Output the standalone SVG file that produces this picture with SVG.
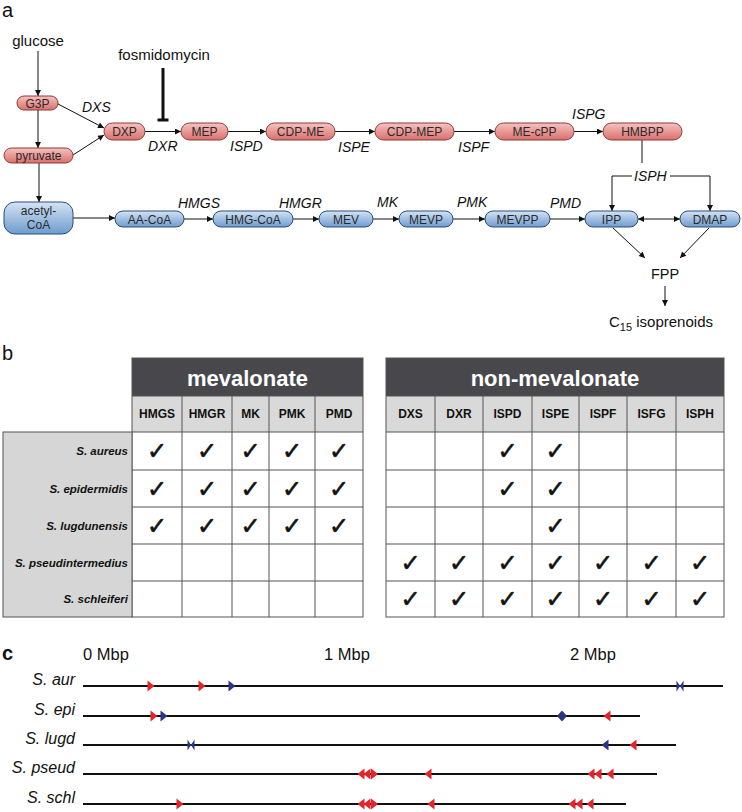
<svg xmlns="http://www.w3.org/2000/svg" width="742" height="812" viewBox="0 0 742 812">
<defs>
<linearGradient id="gr" x1="0" y1="0" x2="0" y2="1"><stop offset="0" stop-color="#f6c2bf"/><stop offset="1" stop-color="#d9706c"/></linearGradient>
<linearGradient id="gb" x1="0" y1="0" x2="0" y2="1"><stop offset="0" stop-color="#d3e3f4"/><stop offset="1" stop-color="#6e9ccf"/></linearGradient>
<marker id="ar" viewBox="0 0 10 10" refX="10" refY="5" markerWidth="7" markerHeight="6" markerUnits="userSpaceOnUse" orient="auto-start-reverse"><path d="M0,0 L10,5 L0,10 z" fill="#111"/></marker>
<polygon id="tR" points="-3.5,-5.5 3.5,0 -3.5,5.5"/>
<polygon id="tL" points="3.5,-5.5 -3.5,0 3.5,5.5"/>
<g id="bow"><polygon points="-3.5,-5.5 0,0 -3.5,5.5"/><polygon points="3.5,-5.5 0,0 3.5,5.5"/></g>
<g id="dia"><polygon points="0,-5.5 -5,0 0,5.5"/><polygon points="0,-5.5 5,0 0,5.5"/></g>
</defs>
<style>
.t{font-family:"Liberation Sans",Arial,sans-serif;fill:#111}
.pl{font-family:"Liberation Sans",Arial,sans-serif;font-size:20px;fill:#111}
.lab{font-family:"Liberation Sans",Arial,sans-serif;font-size:15px;fill:#111}
.enz{font-family:"Liberation Sans",Arial,sans-serif;font-size:14px;font-style:italic;fill:#111}
.nt{font-family:"Liberation Sans",Arial,sans-serif;font-size:12px;fill:#2a2a2a;text-anchor:middle}
.rn{fill:url(#gr);stroke:#8e3b38;stroke-width:1}
.bn{fill:url(#gb);stroke:#2d4c78;stroke-width:1}
.cn{stroke:#111;stroke-width:1;fill:none}
.hd{fill:#48484c}
.ch{fill:#d9d9d9}
.grid{stroke:#555;stroke-width:1;fill:none}
.ht{font-family:"Liberation Sans",Arial,sans-serif;font-size:22px;font-weight:bold;fill:#fff;text-anchor:middle}
.ct{font-family:"Liberation Sans",Arial,sans-serif;font-size:12px;font-weight:bold;fill:#111;text-anchor:middle}
.rt{font-family:"Liberation Sans",Arial,sans-serif;font-size:11.5px;font-weight:bold;font-style:italic;fill:#111;text-anchor:end}
.ck{font-family:"DejaVu Sans",sans-serif;font-size:24px;font-weight:bold;fill:#111;stroke:#111;stroke-width:0.6;text-anchor:middle}
.sp{font-family:"Liberation Sans",Arial,sans-serif;font-size:16px;font-style:italic;fill:#111;text-anchor:end}
.mb{font-family:"Liberation Sans",Arial,sans-serif;font-size:16.5px;fill:#111}
.chr{stroke:#111;stroke-width:2}
.red{fill:#e3242b}
.blu{fill:#2b3585}
</style>

<!-- panel a -->
<text class="pl" x="2" y="17">a</text>
<text class="lab" x="38" y="46" text-anchor="middle">glucose</text>
<text class="lab" x="164" y="60" text-anchor="middle">fosmidomycin</text>

<g id="connectors">
<line class="cn" x1="38" y1="51" x2="38" y2="96" marker-end="url(#ar)"/>
<line class="cn" x1="38" y1="110" x2="38" y2="148" marker-end="url(#ar)"/>
<line class="cn" x1="39" y1="163" x2="39" y2="202" marker-end="url(#ar)"/>
<line class="cn" x1="58" y1="104" x2="104" y2="128" marker-end="url(#ar)"/>
<line class="cn" x1="73" y1="155" x2="104" y2="135" marker-end="url(#ar)"/>
<line class="cn" x1="145" y1="131.5" x2="181" y2="131.5" marker-end="url(#ar)"/>
<line class="cn" x1="228" y1="131.5" x2="266" y2="131.5" marker-end="url(#ar)"/>
<line class="cn" x1="335" y1="131.5" x2="375" y2="131.5" marker-end="url(#ar)"/>
<line class="cn" x1="454" y1="131.5" x2="495" y2="131.5" marker-end="url(#ar)"/>
<line class="cn" x1="574" y1="131.5" x2="603" y2="131.5" marker-end="url(#ar)"/>
<line class="cn" x1="642" y1="140" x2="642" y2="163"/>
<path class="cn" d="M632,176 H612 V211" marker-end="url(#ar)"/>
<path class="cn" d="M670,176 H710 V211" marker-end="url(#ar)"/>
<line class="cn" x1="73" y1="218" x2="115" y2="218" marker-end="url(#ar)"/>
<line class="cn" x1="184" y1="219" x2="213" y2="219" marker-end="url(#ar)"/>
<line class="cn" x1="293" y1="219" x2="319" y2="219" marker-end="url(#ar)"/>
<line class="cn" x1="373" y1="219" x2="399" y2="219" marker-end="url(#ar)"/>
<line class="cn" x1="453" y1="219" x2="485" y2="219" marker-end="url(#ar)"/>
<line class="cn" x1="550" y1="219" x2="585" y2="219" marker-end="url(#ar)"/>
<line class="cn" x1="638" y1="219" x2="680" y2="219" marker-start="url(#ar)" marker-end="url(#ar)"/>
<line class="cn" x1="613" y1="228" x2="645" y2="258" marker-end="url(#ar)"/>
<line class="cn" x1="709" y1="228" x2="680" y2="258" marker-end="url(#ar)"/>
<line class="cn" x1="665" y1="286" x2="665" y2="306" marker-end="url(#ar)"/>
<line x1="163" y1="68" x2="163" y2="120" stroke="#111" stroke-width="3"/>
<line x1="157.5" y1="120" x2="168.5" y2="120" stroke="#111" stroke-width="3"/>
</g>

<g id="G3P"><rect class="rn" x="17" y="96" width="41" height="14" rx="7"/><text class="nt" x="37.5" y="107.5">G3P</text></g>
<g id="pyruvate"><rect class="rn" x="4" y="148" width="69" height="15" rx="7.5"/><text class="nt" x="38.5" y="160">pyruvate</text></g>
<g id="DXP"><rect class="rn" x="104" y="123" width="41" height="17" rx="8.5"/><text class="nt" x="124.5" y="136">DXP</text></g>
<g id="MEP"><rect class="rn" x="181" y="123" width="47" height="17" rx="8.5"/><text class="nt" x="204.5" y="136">MEP</text></g>
<g id="CDP-ME"><rect class="rn" x="266" y="123" width="69" height="17" rx="8.5"/><text class="nt" x="300.5" y="136">CDP-ME</text></g>
<g id="CDP-MEP"><rect class="rn" x="375" y="123" width="79" height="17" rx="8.5"/><text class="nt" x="414.5" y="136">CDP-MEP</text></g>
<g id="ME-cPP"><rect class="rn" x="495" y="123" width="79" height="17" rx="8.5"/><text class="nt" x="534.5" y="136">ME-cPP</text></g>
<g id="HMBPP"><rect class="rn" x="603" y="123" width="79" height="17" rx="8.5"/><text class="nt" x="642.5" y="136">HMBPP</text></g>

<g id="acetyl-CoA"><rect class="bn" x="4" y="202" width="69" height="32" rx="11"/><text class="nt" x="38.5" y="215">acetyl-</text><text class="nt" x="38.5" y="229">CoA</text></g>
<g id="AA-CoA"><rect class="bn" x="115" y="211" width="69" height="16" rx="8"/><text class="nt" x="149.5" y="223.5">AA-CoA</text></g>
<g id="HMG-CoA"><rect class="bn" x="213" y="211" width="80" height="16" rx="8"/><text class="nt" x="253" y="223.5">HMG-CoA</text></g>
<g id="MEV"><rect class="bn" x="319" y="211" width="54" height="16" rx="8"/><text class="nt" x="346" y="223.5">MEV</text></g>
<g id="MEVP"><rect class="bn" x="399" y="211" width="54" height="16" rx="8"/><text class="nt" x="426" y="223.5">MEVP</text></g>
<g id="MEVPP"><rect class="bn" x="485" y="211" width="65" height="16" rx="8"/><text class="nt" x="517.5" y="223.5">MEVPP</text></g>
<g id="IPP"><rect class="bn" x="585" y="211" width="53" height="16" rx="8"/><text class="nt" x="611.5" y="223.5">IPP</text></g>
<g id="DMAP"><rect class="bn" x="680" y="211" width="60" height="16" rx="8"/><text class="nt" x="710" y="223.5">DMAP</text></g>

<g id="enzymes">
<text class="enz" x="82" y="112">DXS</text>
<text class="enz" x="148" y="151">DXR</text>
<text class="enz" x="230" y="151">ISPD</text>
<text class="enz" x="338" y="152">ISPE</text>
<text class="enz" x="458" y="152">ISPF</text>
<text class="enz" x="572" y="119">ISPG</text>
<text class="enz" x="634" y="181">ISPH</text>
<text class="enz" x="178" y="208">HMGS</text>
<text class="enz" x="279" y="208">HMGR</text>
<text class="enz" x="377" y="207">MK</text>
<text class="enz" x="457" y="207">PMK</text>
<text class="enz" x="550" y="208">PMD</text>
</g>
<g id="FPP"><text class="t" x="665" y="279" font-size="14.5" text-anchor="middle">FPP</text></g>
<g id="C15"><text class="t" x="609" y="327" font-size="15">C<tspan font-size="11" dy="4">15</tspan><tspan dy="-4"> isoprenoids</tspan></text></g>

<!-- panel b -->
<text class="pl" x="2" y="360">b</text>
<g id="mevalonate-table">
<rect class="hd" x="132" y="358" width="231" height="38"/>
<text class="ht" x="247.5" y="386">mevalonate</text>
<rect class="ch" x="132" y="396" width="231" height="36"/>
<rect x="132" y="432" width="231" height="185" fill="#fff"/>
<path class="grid" d="M132,396 H363 M132,432 H363 M132,470 H363 M132,507 H363 M132,544 H363 M132,581 H363 M182,396 V617 M232,396 V617 M269,396 V617 M315,396 V617"/>
<rect class="grid" x="132" y="358" width="231" height="259"/>
<text class="ct" x="157" y="418">HMGS</text>
<text class="ct" x="207" y="418">HMGR</text>
<text class="ct" x="250.5" y="418">MK</text>
<text class="ct" x="292" y="418">PMK</text>
<text class="ct" x="339" y="418">PMD</text>
</g>
<g id="species-labels">
<rect x="3" y="432" width="129" height="185" fill="#d6d6d6" stroke="#555" stroke-width="1"/>
<text class="rt" x="128" y="455">S. aureus</text>
<text class="rt" x="128" y="492.5">S. epidermidis</text>
<text class="rt" x="128" y="529.5">S. lugdunensis</text>
<text class="rt" x="128" y="566.5">S. pseudintermedius</text>
<text class="rt" x="128" y="603">S. schleiferi</text>
</g>
<g id="non-mevalonate-table">
<rect class="hd" x="386" y="358" width="338" height="38"/>
<text class="ht" x="555" y="386">non-mevalonate</text>
<rect class="ch" x="386" y="396" width="338" height="36"/>
<rect x="386" y="432" width="338" height="185" fill="#fff"/>
<path class="grid" d="M386,396 H724 M386,432 H724 M386,470 H724 M386,507 H724 M386,544 H724 M386,581 H724 M435,396 V617 M483,396 V617 M532,396 V617 M579,396 V617 M627,396 V617 M676,396 V617"/>
<rect class="grid" x="386" y="358" width="338" height="259"/>
<text class="ct" x="410.5" y="418">DXS</text>
<text class="ct" x="459" y="418">DXR</text>
<text class="ct" x="507.5" y="418">ISPD</text>
<text class="ct" x="555.5" y="418">ISPE</text>
<text class="ct" x="603" y="418">ISPF</text>
<text class="ct" x="651.5" y="418">ISFG</text>
<text class="ct" x="700" y="418">ISPH</text>
</g>
<g id="checks">
<text class="ck" x="157" y="459">✓</text><text class="ck" x="207" y="459">✓</text><text class="ck" x="250.5" y="459">✓</text><text class="ck" x="292" y="459">✓</text><text class="ck" x="339" y="459">✓</text>
<text class="ck" x="157" y="496.5">✓</text><text class="ck" x="207" y="496.5">✓</text><text class="ck" x="250.5" y="496.5">✓</text><text class="ck" x="292" y="496.5">✓</text><text class="ck" x="339" y="496.5">✓</text>
<text class="ck" x="157" y="533.5">✓</text><text class="ck" x="207" y="533.5">✓</text><text class="ck" x="250.5" y="533.5">✓</text><text class="ck" x="292" y="533.5">✓</text><text class="ck" x="339" y="533.5">✓</text>
<text class="ck" x="507.5" y="459">✓</text><text class="ck" x="555.5" y="459">✓</text>
<text class="ck" x="507.5" y="496.5">✓</text><text class="ck" x="555.5" y="496.5">✓</text>
<text class="ck" x="555.5" y="533.5">✓</text>
<text class="ck" x="410.5" y="570.5">✓</text><text class="ck" x="459" y="570.5">✓</text><text class="ck" x="507.5" y="570.5">✓</text><text class="ck" x="555.5" y="570.5">✓</text><text class="ck" x="603" y="570.5">✓</text><text class="ck" x="651.5" y="570.5">✓</text><text class="ck" x="700" y="570.5">✓</text>
<text class="ck" x="410.5" y="607">✓</text><text class="ck" x="459" y="607">✓</text><text class="ck" x="507.5" y="607">✓</text><text class="ck" x="555.5" y="607">✓</text><text class="ck" x="603" y="607">✓</text><text class="ck" x="651.5" y="607">✓</text><text class="ck" x="700" y="607">✓</text>
</g>

<!-- panel c -->
<text class="pl" x="2" y="660" font-weight="bold" font-size="18">c</text>
<text class="mb" x="83" y="660">0 Mbp</text>
<text class="mb" x="324" y="660">1 Mbp</text>
<text class="mb" x="570" y="660">2 Mbp</text>
<g id="chromosomes">
<text class="sp" x="75" y="685">S. aur</text>
<line class="chr" x1="83" y1="686" x2="723" y2="686"/>
<use href="#tR" class="red" x="151" y="686"/><use href="#tR" class="red" x="202" y="686"/><use href="#tR" class="blu" x="232" y="686"/><use href="#bow" class="blu" x="680" y="686"/>
<text class="sp" x="75" y="715">S. epi</text>
<line class="chr" x1="83" y1="716" x2="640" y2="716"/>
<use href="#tR" class="red" x="154" y="716"/><use href="#tR" class="blu" x="164" y="716"/><use href="#dia" class="blu" x="562" y="716"/><use href="#tL" class="red" x="607" y="716"/>
<text class="sp" x="75" y="744">S. lugd</text>
<line class="chr" x1="83" y1="745" x2="676" y2="745"/>
<use href="#bow" class="blu" x="191" y="745"/><use href="#tL" class="blu" x="605" y="745"/><use href="#tL" class="red" x="633" y="745"/>
<text class="sp" x="75" y="773">S. pseud</text>
<line class="chr" x1="83" y1="774" x2="657" y2="774"/>
<use href="#tL" class="red" x="361" y="774"/><use href="#tL" class="red" x="367" y="774"/><use href="#tR" class="red" x="374.5" y="774"/><use href="#tL" class="red" x="428" y="774"/><use href="#tL" class="red" x="591" y="774"/><use href="#tL" class="red" x="598" y="774"/><use href="#tL" class="red" x="610" y="774"/>
<text class="sp" x="75" y="803">S. schl</text>
<line class="chr" x1="83" y1="804" x2="626" y2="804"/>
<use href="#tR" class="red" x="180" y="804"/><use href="#tL" class="red" x="361" y="804"/><use href="#tL" class="red" x="367" y="804"/><use href="#tR" class="red" x="374.5" y="804"/><use href="#tL" class="red" x="431" y="804"/><use href="#tL" class="red" x="572" y="804"/><use href="#tL" class="red" x="579" y="804"/><use href="#tL" class="red" x="590" y="804"/>
</g>
</svg>
